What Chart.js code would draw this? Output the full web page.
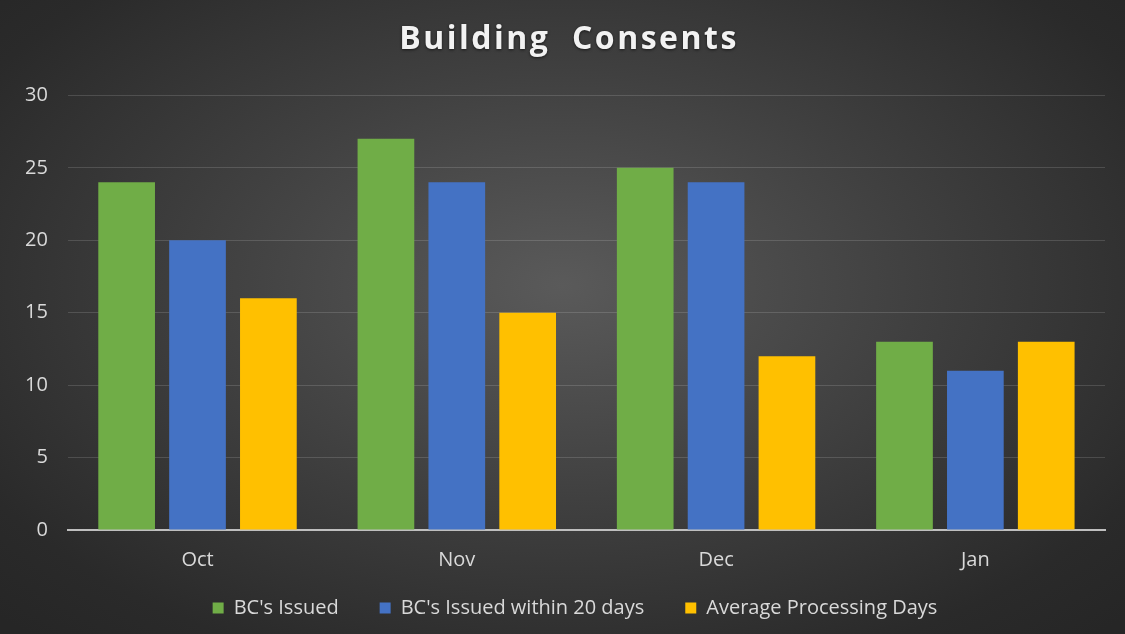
<!DOCTYPE html>
<html>
<head>
<meta charset="utf-8">
<script src="https://cdn.jsdelivr.net/npm/chart.js@4.4.1/dist/chart.umd.min.js"></script>
<style>
  html, body { margin: 0; padding: 0; }
  body {
    width: 1125px; height: 634px; overflow: hidden;
    background: radial-gradient(ellipse 70% 75% at 50% 45%, #5a5a5a 0%, #404040 45%, #2a2a2a 85%, #262626 100%);
  }
</style>
</head>
<body>
<canvas id="chart" width="1125" height="634"></canvas>
<script>
const months = ["Oct", "Nov", "Dec", "Jan"];
const bcIssued = [24, 27, 25, 13];
const bcWithin20 = [20, 24, 24, 11];
const avgDays = [16, 15, 12, 13];

const textColor = "#d9d9d9";
const xShrink = 25;

// the title in the picture is spaced out and has a soft shadow
const spacedTitle = {
  id: "spacedTitle",
  beforeDraw(chart) {
    const tb = chart.titleBlock;
    if (!tb || tb._spaced) return;
    const orig = tb.draw.bind(tb);
    tb.draw = function () {
      const ctx = chart.ctx;
      ctx.save();
      ctx.letterSpacing = "2.5px";
      ctx.shadowColor = "rgba(0,0,0,0.6)";
      ctx.shadowBlur = 3;
      ctx.shadowOffsetY = 1;
      orig();
      ctx.restore();
    };
    tb._spaced = true;
  }
};

// x axis was shrunk in afterFit so the legend sits closer; give its labels their room back
// and nudge the legend and title a little right like in the picture
const fixBoxes = {
  id: "fixBoxes",
  afterLayout(chart) {
    const x = chart.scales.x;
    x.bottom += xShrink;
    x.height += xShrink;
    chart.legend.left += 20;
    chart.legend.right += 20;
    chart.titleBlock.left += 14;
    chart.titleBlock.right += 14;
  }
};

new Chart(document.getElementById("chart"), {
  type: "bar",
  data: {
    labels: months,
    datasets: [
      { label: "BC's Issued", data: bcIssued, backgroundColor: "#70ad47" },
      { label: "BC's Issued within 20 days", data: bcWithin20, backgroundColor: "#4472c4" },
      { label: "Average Processing Days", data: avgDays, backgroundColor: "#ffc000" }
    ]
  },
  plugins: [spacedTitle, fixBoxes],
  options: {
    responsive: false,
    animation: false,
    devicePixelRatio: 1,
    layout: { padding: { left: 5, right: 20, top: 12, bottom: 6 } },
    datasets: { bar: { barPercentage: 0.8, categoryPercentage: 0.82 } },
    plugins: {
      title: {
        display: true,
        text: "Building  Consents",
        color: "#f2f2f2",
        font: { family: "Open Sans", size: 32, weight: "bold" },
        padding: { top: 9, bottom: 36 }
      },
      legend: {
        position: "bottom",
        labels: {
          color: textColor,
          font: { family: "Open Sans", size: 20 },
          boxWidth: 11,
          boxHeight: 11,
          padding: 41
        }
      },
      tooltip: { enabled: false }
    },
    scales: {
      x: {
        grid: { display: false },
        border: { color: "#bfbfbf", width: 2 },
        ticks: { color: textColor, font: { family: "Open Sans", size: 20 }, padding: 10 },
        afterFit(scale) { scale.height -= xShrink; }
      },
      y: {
        min: 0, max: 30,
        ticks: { stepSize: 5, color: textColor, font: { family: "Open Sans", size: 20 }, padding: 20 },
        grid: { color: "rgba(255,255,255,0.14)", drawTicks: false },
        border: { display: false }
      }
    }
  }
});
</script>
</body>
</html>
